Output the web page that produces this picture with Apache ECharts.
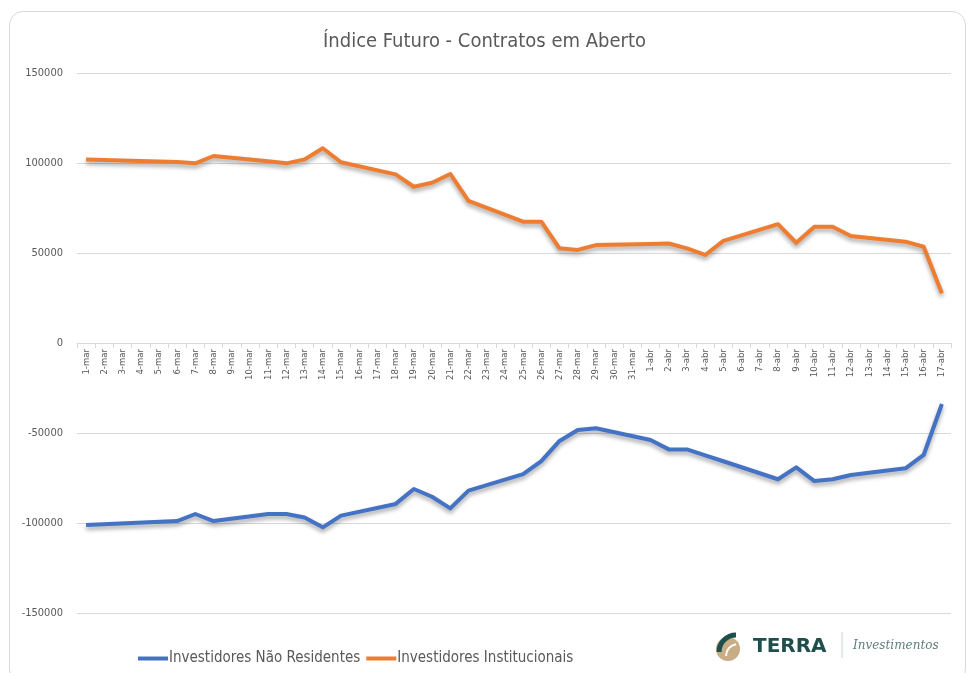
<!DOCTYPE html>
<html>
<head>
<meta charset="utf-8">
<script src="https://cdn.jsdelivr.net/npm/echarts@6/dist/echarts.min.js"></script>
<style>
    html, body { margin: 0; padding: 0; background: #fff; }
    #card {
        position: absolute; left: 9px; top: 11px; width: 957px; height: 672px;
        border: 1px solid #d9d9d9; border-radius: 14px; box-sizing: border-box;
    }
    #chart { position: absolute; left: 0; top: 0; width: 969px; height: 673px; }
</style>
</head>
<body>
<div id="card"></div>
<div id="chart"></div>
<script>
    // eixo x: dias (inclui fins de semana / feriados, sem dados)
    var dias = [
        '1-mar','2-mar','3-mar','4-mar','5-mar','6-mar','7-mar','8-mar','9-mar','10-mar',
        '11-mar','12-mar','13-mar','14-mar','15-mar','16-mar','17-mar','18-mar','19-mar','20-mar',
        '21-mar','22-mar','23-mar','24-mar','25-mar','26-mar','27-mar','28-mar','29-mar','30-mar',
        '31-mar','1-abr','2-abr','3-abr','4-abr','5-abr','6-abr','7-abr','8-abr','9-abr',
        '10-abr','11-abr','12-abr','13-abr','14-abr','15-abr','16-abr','17-abr'
    ];

    var naoResidentes = [
        -101100, null, null, null, null, -98900, -95000, -98900, null, null,
        -95000, -95000, -96900, -102400, -95900, null, null, -89400, -81100, -85400,
        -91900, -82000, null, null, -72800, -65600, -54400, -48300, -47400, null,
        null, -53900, -59100, -59100, -62400, -65700, null, null, -75700, -69100,
        -76700, -75700, -73300, null, null, -69600, -62200, -33900
    ];

    var institucionais = [
        102000, null, null, null, null, 100500, 99800, 103900, null, null,
        101000, 99800, 102000, 108200, 100400, null, null, 93700, 86800, 89000,
        93900, 79000, null, null, 67400, 67400, 52600, 51700, 54400, null,
        null, 55000, 55300, 52600, 48900, 56700, null, null, 66000, 55700,
        64600, 64600, 59400, null, null, 56300, 53500, 27600
    ];

    var yTicks = { min: -150000, max: 150000, interval: 50000 };

    var fonte = "'Liberation Sans Narrow', 'DejaVu Sans Condensed', 'Noto Sans', sans-serif";
    var cinza = '#595959';

    var chart = echarts.init(document.getElementById('chart'));

    var sombra = {
        shadowColor: 'rgba(0,0,0,0.35)',
        shadowBlur: 4,
        shadowOffsetY: 3
    };

    var option = {
        animation: false,
        textStyle: { fontFamily: fonte },
        title: {
            text: 'Índice Futuro - Contratos em Aberto',
            left: 'center',
            top: 27,
            textStyle: { fontSize: 20, fontWeight: 'normal', color: cinza, fontFamily: fonte }
        },
        grid: { left: 77, right: 18, top: 73, bottom: 60 },
        legend: {
            left: 133,
            top: 646,
            itemWidth: 30,
            itemHeight: 4,
            itemGap: 6,
            icon: 'rect',
            textStyle: { fontSize: 15, color: cinza, fontFamily: fonte, padding: [0, 0, 0, -4] },
            data: ['Investidores Não Residentes', 'Investidores Institucionais']
        },
        xAxis: {
            type: 'category',
            data: dias,
            boundaryGap: true,
            position: 'bottom',
            offset: -270, // eixo desenhado na linha do zero
            axisLine: { onZero: false, lineStyle: { color: '#d9d9d9', width: 1 } },
            axisTick: { show: true, length: 5, lineStyle: { color: '#d9d9d9' } },
            axisLabel: { interval: 0, rotate: 90, fontSize: 9.5, color: cinza, margin: 6 }
        },
        yAxis: {
            type: 'value',
            min: yTicks.min,
            max: yTicks.max,
            interval: yTicks.interval,
            axisLine: { show: false },
            axisTick: { show: false },
            splitLine: { lineStyle: { color: '#d9d9d9', width: 1 } },
            axisLabel: { fontSize: 11, color: cinza, margin: 14, formatter: function (v) { return String(v); } }
        },
        series: [
            {
                name: 'Investidores Não Residentes',
                type: 'line',
                data: naoResidentes,
                connectNulls: true,
                showSymbol: false,
                symbol: 'none',
                color: '#4472C4',
                lineStyle: Object.assign({ width: 4, color: '#4472C4', join: 'round' }, sombra)
            },
            {
                name: 'Investidores Institucionais',
                type: 'line',
                data: institucionais,
                connectNulls: true,
                showSymbol: false,
                symbol: 'none',
                color: '#ED7D31',
                lineStyle: Object.assign({ width: 4, color: '#ED7D31', join: 'round' }, sombra)
            }
        ],
        graphic: [
            // logo Terra
            { type: 'circle', shape: { cx: 728, cy: 649, r: 12 }, style: { fill: '#c9ad84' } },
            { type: 'arc', shape: { cx: 736, cy: 652, r: 17, startAngle: Math.PI * 1.0, endAngle: Math.PI * 1.5 },
              style: { stroke: '#1f4f4c', lineWidth: 5, fill: null } },
            { type: 'arc', shape: { cx: 738, cy: 656, r: 12, startAngle: Math.PI * 1.0, endAngle: Math.PI * 1.45 },
              style: { stroke: '#ffffff', lineWidth: 2, fill: null } },
            { type: 'text', left: 753, top: 637,
              style: { text: 'TERRA', font: "bold 20px 'DejaVu Sans', sans-serif", fill: '#1f4f4c' } },
            { type: 'line', shape: { x1: 842, y1: 632, x2: 842, y2: 658 },
              style: { stroke: '#c8d3d2', lineWidth: 1 } },
            { type: 'text', left: 853, top: 640,
              style: { text: 'Investimentos', font: "italic 12px 'DejaVu Serif', serif", fill: '#5f7f7d' } }
        ]
    };

    chart.setOption(option);
</script>
</body>
</html>
